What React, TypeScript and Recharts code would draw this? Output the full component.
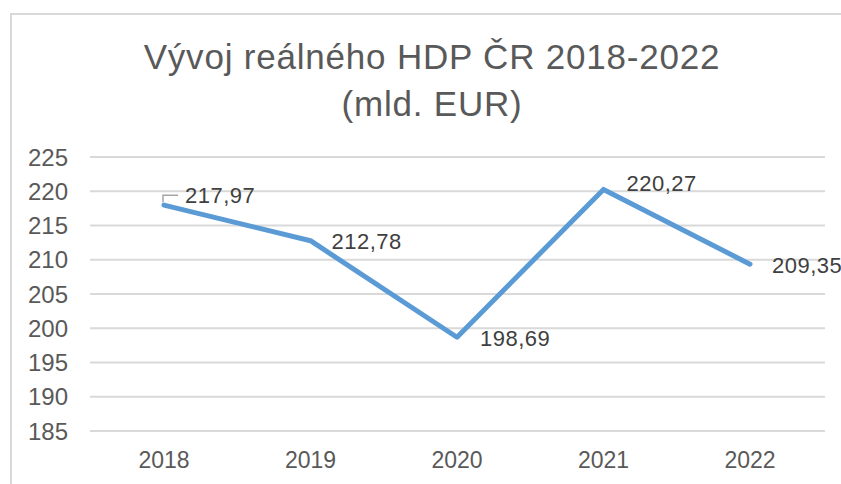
import { CartesianGrid, LabelList, Line, LineChart, XAxis, YAxis } from "recharts";

const years = ["2018", "2019", "2020", "2021", "2022"];
const gdp = [217.97, 212.78, 198.69, 220.27, 209.35];
const yTicks = [185, 190, 195, 200, 205, 210, 215, 220, 225];

const data = years.map((year, i) => ({ year, gdp: gdp[i] }));

const font = '"Liberation Sans", Arial, sans-serif';
const fmt = (v: number) => v.toFixed(2).replace(".", ",");

// label offsets relative to the point: [dx, dy of text centre]
const labelShift = [
  [21, -10],
  [21, 1],
  [23, 1],
  [23, -6],
  [22, 1],
];

function PointLabel(props: any) {
  const { x, y, value, index } = props;
  const [dx, dy] = labelShift[index] ?? [20, 0];
  return (
    <g>
      {index === 0 && (
        <path
          d={`M${x - 1},${y - 3} L${x - 1},${y - 10} L${x + 14},${y - 10}`}
          stroke="#a6a6a6"
          strokeWidth={1.5}
          fill="none"
        />
      )}
      <text
        x={x + dx}
        y={y + dy}
        dominantBaseline="central"
        fill="#404040"
        fontSize={22}
        letterSpacing={0.5}
        fontFamily={font}
      >
        {fmt(value)}
      </text>
    </g>
  );
}

export default function App() {
  return (
    <div style={{ position: "fixed", left: 0, top: 0, width: 841, height: 484, overflow: "hidden", background: "#fff" }}>
      <div
        style={{
          position: "absolute",
          left: 10,
          top: 13,
          width: 900,
          height: 600,
          border: "2px solid #d9d9d9",
        }}
      />
      <div
        style={{
          position: "absolute",
          left: 0,
          top: 33,
          width: 864,
          textAlign: "center",
          fontFamily: font,
          fontSize: 35,
          letterSpacing: 0.8,
          lineHeight: "47px",
          color: "#595959",
        }}
      >
        Vývoj reálného HDP ČR 2018-2022
        <br />
        (mld. EUR)
      </div>
      <div style={{ position: "absolute", left: 0, top: 0 }}>
        <LineChart width={841} height={484} data={data} margin={{ top: 157, right: 16, bottom: 0, left: 0 }}>
          <CartesianGrid horizontal vertical={false} stroke="#d9d9d9" strokeWidth={2} />
          <XAxis
            dataKey="year"
            axisLine={false}
            tickLine={false}
            tickSize={0}
            tickMargin={21}
            height={53}
            padding={{ left: 74, right: 75 }}
            tick={{ fill: "#595959", fontSize: 23, fontFamily: font }}
          />
          <YAxis
            domain={[185, 225]}
            ticks={yTicks}
            width={90}
            axisLine={false}
            tickLine={false}
            tickSize={0}
            tickMargin={22}
            tick={{ fill: "#595959", fontSize: 24, fontFamily: font }}
          />
          <Line
            dataKey="gdp"
            stroke="#5b9bd5"
            strokeWidth={5}
            dot={false}
            strokeLinejoin="round"
            strokeLinecap="round"
            isAnimationActive={false}
          >
            <LabelList dataKey="gdp" content={<PointLabel />} />
          </Line>
        </LineChart>
      </div>
    </div>
  );
}
